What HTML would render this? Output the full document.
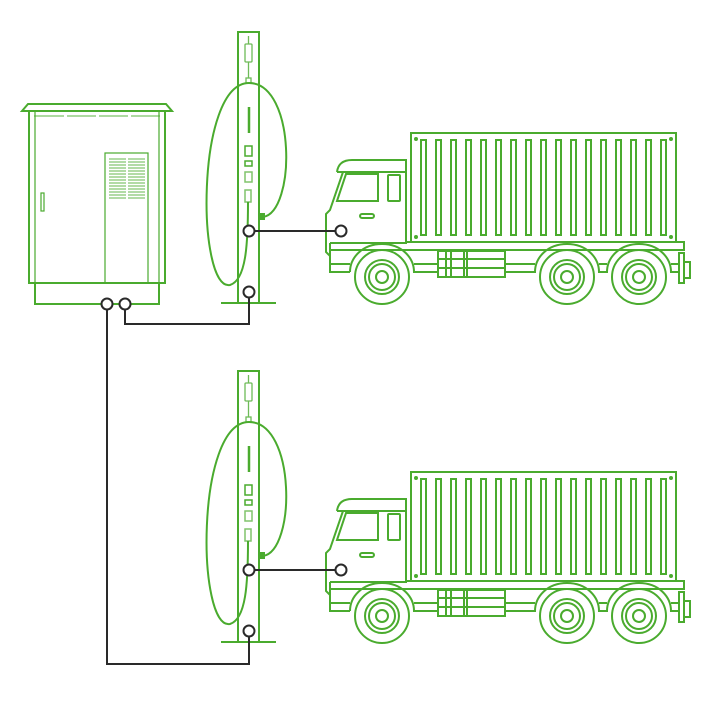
<!DOCTYPE html>
<html><head><style>html,body{margin:0;padding:0;background:#fff}svg{display:block}</style></head>
<body>
<svg width="720" height="704" viewBox="0 0 720 704" xmlns="http://www.w3.org/2000/svg">
<defs>
<g id="truck" fill="none" stroke="#4aab2e" stroke-width="2">
  <rect x="411" y="133" width="265" height="109"/>
  <g stroke-width="2">
    <rect x="421" y="140" width="5" height="95"/><rect x="436" y="140" width="5" height="95"/>
    <rect x="451" y="140" width="5" height="95"/><rect x="466" y="140" width="5" height="95"/>
    <rect x="481" y="140" width="5" height="95"/><rect x="496" y="140" width="5" height="95"/>
    <rect x="511" y="140" width="5" height="95"/><rect x="526" y="140" width="5" height="95"/>
    <rect x="541" y="140" width="5" height="95"/><rect x="556" y="140" width="5" height="95"/>
    <rect x="571" y="140" width="5" height="95"/><rect x="586" y="140" width="5" height="95"/>
    <rect x="601" y="140" width="5" height="95"/><rect x="616" y="140" width="5" height="95"/>
    <rect x="631" y="140" width="5" height="95"/><rect x="646" y="140" width="5" height="95"/>
    <rect x="661" y="140" width="5" height="95"/>
  </g>
  <path d="M337,172 C338,164 343,160 352,160 L406,160 L406,243 L330,243"/>
  <path d="M337,172 L406,172"/>
  <path d="M343,172 L330,210 L326,214 L326,252 L330,256 L330,243"/>
  <path d="M337,201 L346,174 L378,174 L378,201 Z"/>
  <rect x="388" y="175" width="12" height="26" rx="1"/>
  <rect x="360" y="214" width="14" height="4" rx="2"/>
  <path d="M330,243 L330,272 L350,272 M330,264 L350,264"/>
  <path d="M406,242 L684,242 L684,250 L330,250"/>
  <path d="M350,272 C350,258 362,244 382,244 C402,244 414,258 414,272 L438,272 M414,264 L438,264"/>
  <path d="M505,272 L535,272 C535,258 547,244 567,244 C587,244 599,258 599,272 L607,272 C607,258 619,244 639,244 C659,244 671,258 671,272 L679,272 M505,264 L535,264 M599,264 L607,264 M671,264 L679,264"/>
  <rect x="438" y="251" width="67" height="26"/>
  <path d="M438,259 L505,259 M438,268 L505,268 M446,251 L446,277 M451,251 L451,277 M464,251 L464,277 M467,251 L467,277"/>
  <rect x="679" y="253" width="5" height="30"/><rect x="684" y="262" width="6" height="16"/>
  <g>
    <circle cx="382" cy="277" r="27"/><circle cx="382" cy="277" r="17"/><circle cx="382" cy="277" r="13"/><circle cx="382" cy="277" r="6"/>
    <circle cx="567" cy="277" r="27"/><circle cx="567" cy="277" r="17"/><circle cx="567" cy="277" r="13"/><circle cx="567" cy="277" r="6"/>
    <circle cx="639" cy="277" r="27"/><circle cx="639" cy="277" r="17"/><circle cx="639" cy="277" r="13"/><circle cx="639" cy="277" r="6"/>
  </g>
  <circle cx="416" cy="139" r="1" fill="#4aab2e"/><circle cx="671" cy="139" r="1" fill="#4aab2e"/>
  <circle cx="416" cy="237" r="1" fill="#4aab2e"/><circle cx="671" cy="237" r="1" fill="#4aab2e"/>
</g>
<g id="charger" fill="none" stroke="#4aab2e" stroke-width="2">
  <rect x="238" y="32" width="21" height="271"/>
  <path d="M221,303 L276,303"/>
  <g stroke-width="1.3" opacity="0.8">
    <rect x="245" y="44" width="7" height="18" rx="1"/><path d="M248.5,36 L248.5,44 M248.5,62 L248.5,78"/><rect x="246" y="78" width="5" height="5"/>
  </g>
  <path d="M249,107 L249,133" stroke-width="2.5"/>
  <rect x="245" y="146" width="7" height="10" stroke-width="1.5"/>
  <rect x="245" y="161" width="7" height="5" stroke-width="1.5"/>
  <rect x="245" y="172" width="7" height="10" stroke-width="1.5" opacity="0.7"/>
  <rect x="245" y="190" width="6" height="12" stroke-width="1.5" opacity="0.7"/>
  <path d="M263,217 C296,212 296,83 249,83 C195,83 197,292 230,285 C246,280 248,245 248,202"/>
  <rect x="260" y="214" width="4" height="5" fill="#4aab2e"/>
</g>
</defs>

<g fill="none" stroke="#4aab2e" stroke-width="2">
  <path d="M22,111 L28,104 L166,104 L172,111 Z"/>
  <rect x="29" y="111" width="136" height="172"/>
  <path d="M35,111 L35,283 M159,111 L159,283" stroke-width="1.2"/>
  <path d="M34,116 L64,116 M67,116 L96,116 M99,116 L128,116 M131,116 L160,116" stroke-width="1.5" opacity="0.6"/>
  <path d="M35,283 L35,304 L159,304 L159,283"/>
  <rect x="105" y="153" width="43" height="130" stroke-width="1.2"/>
  <g stroke-width="1" opacity="0.85">
    <path d="M109,159h17M109,162h17M109,165h17M109,168h17M109,171h17M109,174h17M109,177h17M109,180h17M109,183h17M109,186h17M109,189h17M109,192h17M109,195h17M109,198h17"/>
    <path d="M128,159h17M128,162h17M128,165h17M128,168h17M128,171h17M128,174h17M128,177h17M128,180h17M128,183h17M128,186h17M128,189h17M128,192h17M128,195h17M128,198h17"/>
  </g>
  <rect x="41" y="193" width="3" height="18" stroke-width="1.2"/>
</g>

<use href="#charger"/>
<use href="#truck"/>
<g transform="translate(0,339)"><use href="#charger"/><use href="#truck"/></g>

<g fill="none" stroke="#2a2a2a" stroke-width="2">
  <path d="M249,231 L341,231"/>
  <path d="M249,570 L341,570"/>
  <path d="M249,297 L249,324 L125,324 L125,309"/>
  <path d="M107,309 L107,664 L249,664 L249,636"/>
  <g fill="#fff">
    <circle cx="249" cy="231" r="5.5"/><circle cx="341" cy="231" r="5.5"/><circle cx="249" cy="292" r="5.5"/>
    <circle cx="249" cy="570" r="5.5"/><circle cx="341" cy="570" r="5.5"/><circle cx="249" cy="631" r="5.5"/>
    <circle cx="107" cy="304" r="5.5"/><circle cx="125" cy="304" r="5.5"/>
  </g>
</g>
</svg>
</body></html>
